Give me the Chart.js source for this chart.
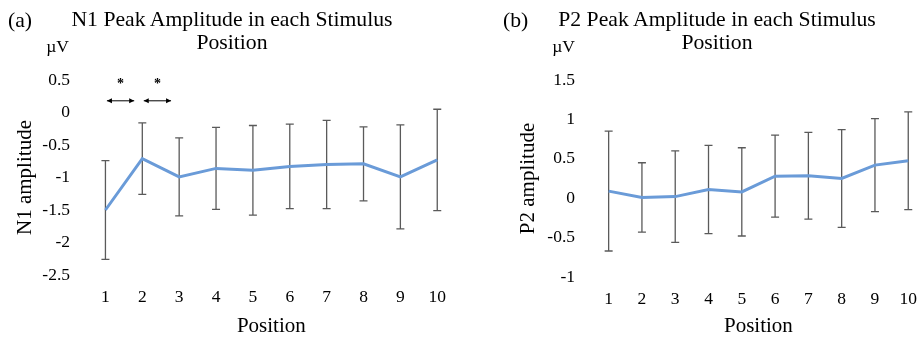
<!DOCTYPE html>
<html>
<head>
<meta charset="utf-8">
<script src="https://cdn.jsdelivr.net/npm/chart.js@4/dist/chart.umd.min.js"></script>
<style>
  html, body { margin:0; padding:0; background:#fff; overflow:hidden; }
  body { width:917px; height:341px; position:relative; font-family:"Liberation Serif", serif; color:#000; }
  .panel { position:absolute; top:0; height:341px; }
  #wrapA { left:0; width:458px; }
  #wrapB { left:459px; width:470px; }
  .txt { position:absolute; white-space:nowrap; line-height:1; }
  .ttl { font-size:21.7px; text-align:center; line-height:22.5px; transform:translateX(-50%); }
  .unit { font-size:17.5px; transform:translateX(-100%); }
</style>
</head>
<body>
<div class="panel" id="wrapA"><canvas id="chartA" width="458" height="341"></canvas></div>
<div class="panel" id="wrapB"><canvas id="chartB" width="470" height="341"></canvas></div>

<div class="txt" style="left:8px;top:10px;font-size:21.7px">(a)</div>
<div class="txt ttl" style="left:232px;top:8px">N1 Peak Amplitude in each Stimulus<br>Position</div>
<div class="txt unit" style="left:69px;top:38px">µV</div>

<div class="txt" style="left:503px;top:10px;font-size:21.7px">(b)</div>
<div class="txt ttl" style="left:717px;top:8px">P2 Peak Amplitude in each Stimulus<br>Position</div>
<div class="txt unit" style="left:575px;top:38px">µV</div>

<script>
// ── DATA ────────────────────────────────────────────
const positions = ['1','2','3','4','5','6','7','8','9','10'];

const n1Mean = [-1.50, -0.71, -0.99, -0.86, -0.89, -0.83, -0.80, -0.79, -0.99, -0.73];
const n1Sd   = [0.76, 0.55, 0.60, 0.63, 0.69, 0.65, 0.68, 0.57, 0.80, 0.78];

const p2Mean = [0.09, 0.01, 0.02, 0.11, 0.08, 0.28, 0.285, 0.25, 0.42, 0.475];
const p2Sd   = [0.76, 0.44, 0.58, 0.56, 0.56, 0.52, 0.55, 0.62, 0.59, 0.62];

// significance markers: pairs of position indices
const n1Sig = [[0, 1], [1, 2]];

const SERIF = '"Liberation Serif", "Times New Roman", serif';
const LINE_COL = '#6a9bd8';
const ERR_COL = '#5a5a5a';

// ── PLUGINS ─────────────────────────────────────────
const errorBars = {
  id: 'errorBars',
  beforeDatasetsDraw(chart, args, opts) {
    const x = chart.scales.x, y = chart.scales.y;
    const ctx = chart.ctx;
    ctx.save();
    ctx.strokeStyle = ERR_COL;
    ctx.lineWidth = 1.3;
    opts.mean.forEach((m, i) => {
      const px = x.getPixelForValue(i);
      const top = y.getPixelForValue(m + opts.sd[i]);
      const bot = y.getPixelForValue(m - opts.sd[i]);
      ctx.beginPath();
      ctx.moveTo(px, top); ctx.lineTo(px, bot);
      ctx.moveTo(px - 4, top); ctx.lineTo(px + 4, top);
      ctx.moveTo(px - 4, bot); ctx.lineTo(px + 4, bot);
      ctx.stroke();
    });
    ctx.restore();
  }
};

const sigMarks = {
  id: 'sigMarks',
  afterDatasetsDraw(chart, args, opts) {
    if (!opts.pairs) return;
    const x = chart.scales.x, y = chart.scales.y;
    const ctx = chart.ctx;
    const ay = y.getPixelForValue(opts.arrowAt);
    const sy = y.getPixelForValue(opts.starAt);
    ctx.save();
    ctx.strokeStyle = '#000';
    ctx.fillStyle = '#000';
    ctx.lineWidth = 1;
    opts.pairs.forEach(([a, b]) => {
      const xa = x.getPixelForValue(a), xb = x.getPixelForValue(b);
      const step = xb - xa;
      const x0 = xa + step * 0.04, x1 = xa + step * 0.78;
      ctx.beginPath();
      ctx.moveTo(x0, ay); ctx.lineTo(x1, ay);
      ctx.stroke();
      [[x0, 1], [x1, -1]].forEach(([hx, d]) => {
        ctx.beginPath();
        ctx.moveTo(hx, ay);
        ctx.lineTo(hx + 5 * d, ay - 2.5);
        ctx.lineTo(hx + 5 * d, ay + 2.5);
        ctx.closePath();
        ctx.fill();
      });
      ctx.font = 'bold 14px ' + SERIF;
      ctx.textAlign = 'center';
      ctx.textBaseline = 'middle';
      ctx.fillText('*', (x0 + x1) / 2, sy + 4);
    });
    ctx.restore();
  }
};

// ── CHART BUILDER ───────────────────────────────────
function makeChart(id, mean, sd, yMin, yMax, yTitle, yTitlePad, yWidth, xHeight, sig) {
  return new Chart(document.getElementById(id), {
    type: 'line',
    data: {
      labels: positions,
      datasets: [{
        data: mean,
        borderColor: LINE_COL,
        borderWidth: 3,
        pointRadius: 0,
        tension: 0,
        fill: false
      }]
    },
    options: {
      responsive: false,
      animation: false,
      events: [],
      layout: { padding: { left: 0, right: 0, top: 80, bottom: 0 } },
      plugins: {
        legend: { display: false },
        tooltip: { enabled: false },
        errorBars: { mean, sd },
        sigMarks: sig || {}
      },
      scales: {
        x: {
          type: 'category',
          offset: true,
          grid: { display: false, drawTicks: false },
          border: { display: false },
          ticks: { color: '#000', font: { family: SERIF, size: 17.5 }, padding: 12, maxRotation: 0, autoSkip: false },
          title: { display: true, text: 'Position', color: '#000', font: { family: SERIF, size: 21 }, padding: { top: 0, bottom: 2 } },
          afterFit: s => { s.height = xHeight; }
        },
        y: {
          min: yMin,
          max: yMax,
          grid: { display: false, drawTicks: false },
          border: { display: false },
          ticks: {
            stepSize: 0.5, color: '#000', font: { family: SERIF, size: 17.5 }, padding: 17,
            callback: v => String(Math.round(v * 10) / 10)
          },
          title: { display: true, text: yTitle, color: '#000', font: { family: SERIF, size: 21 }, padding: { top: yTitlePad, bottom: 0 } },
          afterFit: s => { s.width = yWidth; }
        }
      }
    },
    plugins: [errorBars, sigMarks]
  });
}

makeChart('chartA', n1Mean, n1Sd, -2.5, 0.5, 'N1 amplitude', 13, 87, 66,
  { pairs: n1Sig, arrowAt: 0.18, starAt: 0.49 });
makeChart('chartB', p2Mean, p2Sd, -1, 1.5, 'P2 amplitude', 57, 133, 64);
</script>
</body>
</html>
